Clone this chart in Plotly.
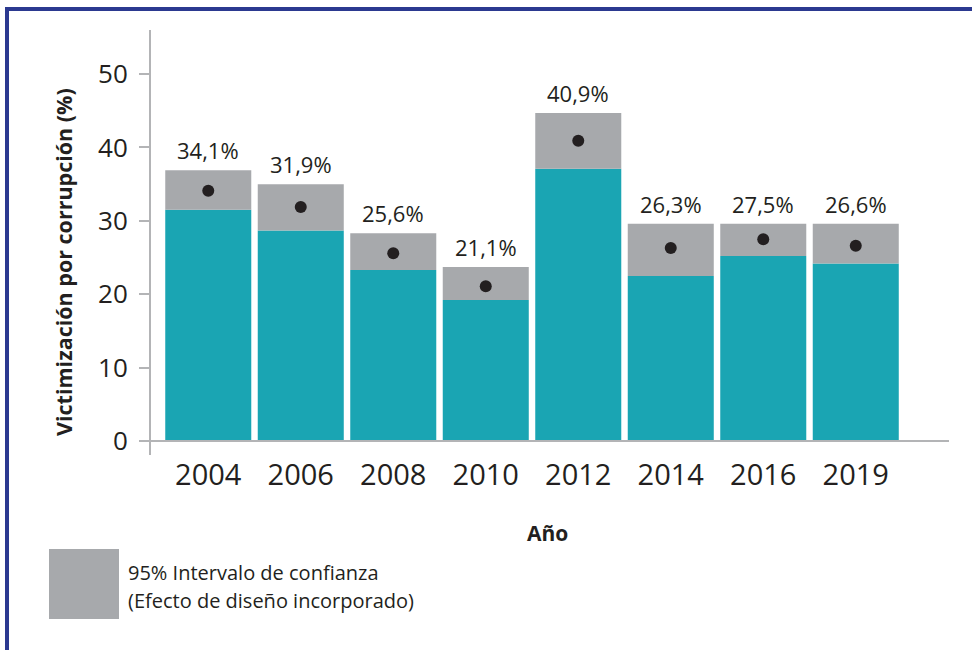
import plotly.graph_objects as go

# ---- data ----
years = ["2004", "2006", "2008", "2010", "2012", "2014", "2016", "2019"]
estimate = [34.1, 31.9, 25.6, 21.1, 40.9, 26.3, 27.5, 26.6]
ci_lower = [31.5, 28.7, 23.3, 19.2, 37.1, 22.5, 25.2, 24.2]
ci_upper = [36.9, 35.0, 28.3, 23.7, 44.7, 29.6, 29.6, 29.6]
y_ticks = [0, 10, 20, 30, 40, 50]

TEAL = "#1aa5b3"
GRAY = "#a7a9ac"
DARK = "#231f20"
BLUE = "#2b3990"
AXIS = "#b3b4b6"
FONT = "Open Sans"

W, H = 972, 650
L, R, T, B = 151, 949, 30, 455  # plot area in pixels


def px(x):
    return (x - L) / (R - L)


def py(y):
    return (B - y) / (B - T)


fig = go.Figure()
fig.add_trace(go.Bar(x=years, y=ci_lower, marker_color=TEAL, marker_line_width=0,
                     showlegend=False, hoverinfo="skip"))
fig.add_trace(go.Bar(x=years, y=[u - l for u, l in zip(ci_upper, ci_lower)], base=ci_lower,
                     marker_color=GRAY, marker_line_width=0, showlegend=False,
                     hoverinfo="skip"))
fig.add_trace(go.Scatter(x=years, y=estimate, mode="markers",
                         marker=dict(color=DARK, size=12), showlegend=False))

for i, (est, up) in enumerate(zip(estimate, ci_upper)):
    fig.add_annotation(x=i, y=up, text=f"{est:.1f}".replace(".", ",") + "%",
                       showarrow=False, xanchor="center", yanchor="bottom", yshift=3,
                       font=dict(family=FONT, size=22, color=DARK))

shapes = [
    # x axis line (extends left past the y axis)
    dict(type="line", xref="paper", yref="y", x0=px(142), x1=1, y0=0, y1=0,
         line=dict(color=AXIS, width=2)),
    # border top and left
    dict(type="line", xref="paper", yref="paper", x0=px(5), x1=px(W + 5), y0=py(9), y1=py(9),
         line=dict(color=BLUE, width=4)),
    dict(type="line", xref="paper", yref="paper", x0=px(7), x1=px(7), y0=py(7), y1=py(H + 5),
         line=dict(color=BLUE, width=4)),
    # legend swatch
    dict(type="rect", xref="paper", yref="paper", x0=px(49), x1=px(119), y0=py(619), y1=py(549),
         fillcolor=GRAY, line_width=0),
]

annotations = [
    dict(xref="paper", yref="paper", x=px(63), y=py(262), text="<b>Victimización por corrupción (%)</b>",
         textangle=-90, showarrow=False, xanchor="center", yanchor="middle",
         font=dict(family=FONT, size=21.5, color=DARK)),
    dict(xref="paper", yref="paper", x=px(547), y=py(533), text="<b>Año</b>",
         showarrow=False, xanchor="center", yanchor="middle",
         font=dict(family=FONT, size=21, color=DARK)),
    dict(xref="paper", yref="paper", x=px(126), y=py(572), text="95% Intervalo de confianza",
         showarrow=False, xanchor="left", yanchor="middle",
         font=dict(family=FONT, size=20, color=DARK)),
    dict(xref="paper", yref="paper", x=px(126), y=py(600), text="(Efecto de diseño incorporado)",
         showarrow=False, xanchor="left", yanchor="middle",
         font=dict(family=FONT, size=20, color=DARK)),
]
for a in annotations:
    fig.add_annotation(**a)

fig.update_layout(
    width=W, height=H,
    margin=dict(l=L, r=W - R, t=T, b=H - B, pad=0),
    paper_bgcolor="white", plot_bgcolor="white",
    barmode="overlay", bargap=0.07,
    shapes=shapes,
    xaxis=dict(type="category", range=[-0.619, 8.008], showline=False, showgrid=False,
               zeroline=False, ticks="", tickfont=dict(family=FONT, size=29, color=DARK),
               fixedrange=True),
    yaxis=dict(range=[-1.9, 56], tickvals=y_ticks, showline=True, linecolor=AXIS, linewidth=2,
               ticks="outside", ticklen=10, tickcolor=AXIS, tickwidth=2, showgrid=False,
               zeroline=False, tickfont=dict(family=FONT, size=26, color=DARK),
               ticklabelstandoff=6, fixedrange=True),
)

fig.write_html("out.html", config={"displayModeBar": False},
               post_script="document.body.style.margin='0';")
